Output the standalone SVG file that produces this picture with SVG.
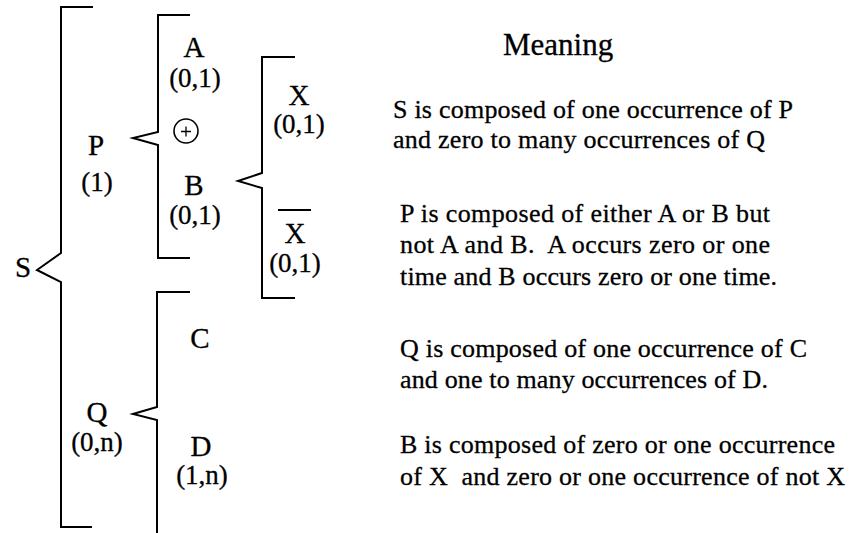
<svg xmlns="http://www.w3.org/2000/svg" width="850" height="533" viewBox="0 0 850 533">
<style>
.t{font-family:"Liberation Serif","Times New Roman",serif;fill:#000;stroke:#000;stroke-width:0.3}
.L{font-size:29px;text-anchor:middle}
.m{font-size:27px;text-anchor:middle}
.b{font-size:26px;white-space:pre}
.br{fill:none;stroke:#000;stroke-width:2;stroke-linejoin:miter}
</style>
<rect width="850" height="533" fill="#fff"/>
<g id="connectors">
<path class="br" d="M93,7 H61 V253 L37,270 L61,282 V527 H92"/>
<path class="br" d="M190,15 H158 V132 L133,138 L158,145 V258 H190"/>
<path class="br" d="M295,57 H262 V173 L238,181 L262,188 V298 H295"/>
<path class="br" d="M190,292 H157 V407 L133,414 L157,420 V533"/>
</g>
<g id="S"><text class="t L" x="23" y="277">S</text></g>
<g id="P"><text class="t L" x="96" y="155">P</text><text class="t m" x="97" y="191">(1)</text></g>
<g id="A"><text class="t L" x="194" y="57">A</text><text class="t m" x="195" y="87">(0,1)</text></g>
<g id="xor"><circle cx="186" cy="131" r="12" fill="none" stroke="#000" stroke-width="1.6"/><path d="M181,131.5 H191 M186,126.5 V136.5" stroke="#000" stroke-width="1.3"/></g>
<g id="B"><text class="t L" x="194" y="195">B</text><text class="t m" x="195" y="224">(0,1)</text></g>
<g id="X"><text class="t L" x="299" y="105">X</text><text class="t m" x="299" y="133">(0,1)</text></g>
<g id="notX"><line x1="278" y1="210" x2="311" y2="210" stroke="#000" stroke-width="2"/><text class="t L" x="295" y="243">X</text><text class="t m" x="295" y="272">(0,1)</text></g>
<g id="Q"><text class="t L" x="97" y="422">Q</text><text class="t m" x="97" y="451">(0,n)</text></g>
<g id="C"><text class="t L" x="200" y="348">C</text></g>
<g id="D"><text class="t L" x="201" y="456">D</text><text class="t m" x="202" y="484">(1,n)</text></g>
<g id="meaning">
<text class="t" x="503" y="55" font-size="31">Meaning</text>
<text class="t b" x="393" y="118" textLength="400">S is composed of one occurrence of P</text>
<text class="t b" x="393" y="148" textLength="372">and zero to many occurrences of Q</text>
<text class="t b" x="400" y="222" textLength="370">P is composed of either A or B but</text>
<text class="t b" x="400" y="253" textLength="370">not A and B.  A occurs zero or one</text>
<text class="t b" x="400" y="285" textLength="377">time and B occurs zero or one time.</text>
<text class="t b" x="400" y="357" textLength="407">Q is composed of one occurrence of C</text>
<text class="t b" x="400" y="388" textLength="368">and one to many occurrences of D.</text>
<text class="t b" x="400" y="453" textLength="435">B is composed of zero or one occurrence</text>
<text class="t b" x="400" y="485" textLength="445">of X  and zero or one occurrence of not X</text>
</g>
</svg>
